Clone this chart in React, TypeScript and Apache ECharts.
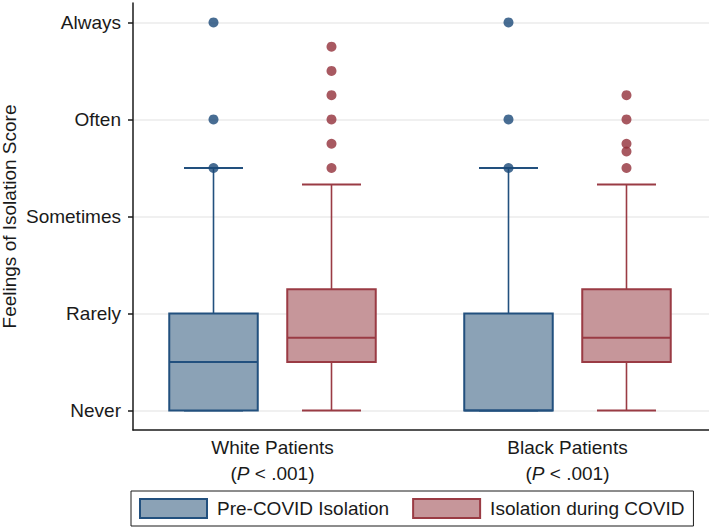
import React, { useEffect, useRef } from "react";
import * as echarts from "echarts";

const groups = ["White Patients", "Black Patients"];
const levelValues = [1, 2, 3, 4, 5];
const levelLabels = ["Never", "Rarely", "Sometimes", "Often", "Always"];
const seriesNames = ["Pre-COVID Isolation", "Isolation during COVID"];

// [lower whisker, Q1, median, Q3, upper whisker]
const preCovidBoxes = [
  [1, 1, 1.5, 2, 3.5],
  [1, 1, 1, 2, 3.5],
];
const duringCovidBoxes = [
  [1, 1.5, 1.75, 2.25, 3.33],
  [1, 1.5, 1.75, 2.25, 3.33],
];
const preCovidOutliers = [
  [3.5, 4, 5],
  [3.5, 4, 5],
];
const duringCovidOutliers = [
  [3.5, 3.75, 4, 4.25, 4.5, 4.75],
  [3.5, 3.67, 3.75, 4, 4.25],
];

const OFFSET = 0.2;
const BOX_W = 0.3;
const CAP_W = 0.2;

const BLUE_FILL = "#8BA2B6";
const BLUE_LINE = "#22507E";
const BLUE_DOT = "#1A4878";
const RED_FILL = "#C6969A";
const RED_LINE = "#9A3B44";
const RED_DOT = "#923039";
const FONT = "'Liberation Sans', Arial, Helvetica, sans-serif";

function makeRenderItem(offset: number, fill: string, stroke: string) {
  return (params: any, api: any) => {
    const x = api.value(0) + offset;
    const lo = api.value(1);
    const q1 = api.value(2);
    const med = api.value(3);
    const q3 = api.value(4);
    const hi = api.value(5);
    const pLo = api.coord([x, lo]);
    const pQ1 = api.coord([x, q1]);
    const pMed = api.coord([x, med]);
    const pQ3 = api.coord([x, q3]);
    const pHi = api.coord([x, hi]);
    const bw = api.size([BOX_W, 0])[0];
    const cw = api.size([CAP_W, 0])[0];
    const cx = pQ1[0];
    const lineStyle = { stroke, lineWidth: 1.6, fill: "none" };
    return {
      type: "group",
      children: [
        { type: "line", shape: { x1: cx, y1: pQ3[1], x2: cx, y2: pHi[1] }, style: lineStyle },
        { type: "line", shape: { x1: cx, y1: pQ1[1], x2: cx, y2: pLo[1] }, style: lineStyle },
        { type: "line", shape: { x1: cx - cw / 2, y1: pHi[1], x2: cx + cw / 2, y2: pHi[1] }, style: { stroke, lineWidth: 2 } },
        { type: "line", shape: { x1: cx - cw / 2, y1: pLo[1], x2: cx + cw / 2, y2: pLo[1] }, style: { stroke, lineWidth: 2 } },
        {
          type: "rect",
          shape: { x: cx - bw / 2, y: pQ3[1], width: bw, height: pQ1[1] - pQ3[1] },
          style: { fill, stroke, lineWidth: 2 },
        },
        { type: "line", shape: { x1: cx - bw / 2, y1: pMed[1], x2: cx + bw / 2, y2: pMed[1] }, style: { stroke, lineWidth: 2 } },
      ],
    };
  };
}

export default function App() {
  const ref = useRef<HTMLDivElement>(null);
  useEffect(() => {
    if (!ref.current) return;
    const chart = echarts.init(ref.current, null, { renderer: "svg" });
    const preData = groups.map((_, i) => [i, ...preCovidBoxes[i]]);
    const durData = groups.map((_, i) => [i, ...duringCovidBoxes[i]]);
    const preOut = preCovidOutliers.flatMap((vals, g) => vals.map((v) => [g - OFFSET, v]));
    const durOut = duringCovidOutliers.flatMap((vals, g) => vals.map((v) => [g + OFFSET, v]));

    chart.setOption({
      animation: false,
      textStyle: { fontFamily: FONT },
      grid: { left: 133, right: 0, top: 3, bottom: 97, containLabel: false, outerBoundsMode: "none" },
      xAxis: {
        type: "value",
        min: -0.4729,
        max: 1.4797,
        axisLine: { show: true, onZero: false, lineStyle: { color: "#1a1a1a", width: 1.5 } },
        axisTick: { show: false },
        splitLine: { show: false },
        axisLabel: {
          customValues: [0, 1],
          margin: 4,
          formatter: (v: number) => `{a|${groups[Math.round(v)]}}\n{a|(}{i|P}{a| < .001)}`,
          rich: {
            a: { fontSize: 19, lineHeight: 26, color: "#1a1a1a", fontFamily: FONT },
            i: { fontSize: 19, lineHeight: 26, color: "#1a1a1a", fontStyle: "italic", fontFamily: FONT },
          },
        },
      },
      yAxis: {
        type: "value",
        min: 0.8,
        max: 5.2,
        name: "Feelings of Isolation Score",
        nameLocation: "middle",
        nameGap: 114,
        nameMoveOverlap: false,
        nameTextStyle: { fontSize: 19, color: "#1a1a1a", fontFamily: FONT },
        axisLine: { show: true, onZero: false, lineStyle: { color: "#1a1a1a", width: 1.5 } },
        axisTick: { show: true, length: 5, customValues: levelValues, lineStyle: { color: "#1a1a1a", width: 1.5 } },
        axisLabel: {
          customValues: levelValues,
          margin: 12,
          fontSize: 19,
          color: "#1a1a1a",
          fontFamily: FONT,
          formatter: (v: number) => levelLabels[Math.round(v) - 1] ?? "",
        },
        splitLine: { show: true, lineStyle: { color: "#ebebeb", width: 1.5 } },
      },
      legend: {
        left: 131,
        top: 491,
        orient: "horizontal",
        padding: [7, 9, 7, 8],
        itemGap: 23,
        itemWidth: 67,
        itemHeight: 19,
        borderColor: "#1a1a1a",
        borderWidth: 1,
        textStyle: { fontSize: 19, color: "#1a1a1a", fontFamily: FONT, padding: [0, 0, 0, 5] },
        data: [
          { name: seriesNames[0], icon: "rect", itemStyle: { color: BLUE_FILL, borderColor: BLUE_LINE, borderWidth: 2 } },
          { name: seriesNames[1], icon: "rect", itemStyle: { color: RED_FILL, borderColor: RED_LINE, borderWidth: 2 } },
        ],
      },
      series: [
        {
          name: seriesNames[0],
          type: "custom",
          renderItem: makeRenderItem(-OFFSET, BLUE_FILL, BLUE_LINE),
          encode: { x: 0, y: [1, 2, 3, 4, 5] },
          itemStyle: { color: BLUE_FILL },
          data: preData,
          z: 2,
        },
        {
          name: seriesNames[1],
          type: "custom",
          renderItem: makeRenderItem(OFFSET, RED_FILL, RED_LINE),
          encode: { x: 0, y: [1, 2, 3, 4, 5] },
          itemStyle: { color: RED_FILL },
          data: durData,
          z: 2,
        },
        {
          name: seriesNames[0],
          type: "scatter",
          symbol: "circle",
          symbolSize: 10,
          itemStyle: { color: BLUE_DOT },
          data: preOut,
          z: 3,
        },
        {
          name: seriesNames[1],
          type: "scatter",
          symbol: "circle",
          symbolSize: 10,
          itemStyle: { color: RED_DOT },
          data: durOut,
          z: 3,
        },
      ],
    });
    return () => chart.dispose();
  }, []);
  return (
    <div
      ref={ref}
      style={{ position: "fixed", left: 0, top: 0, width: 709, height: 527, background: "#fff" }}
    />
  );
}
